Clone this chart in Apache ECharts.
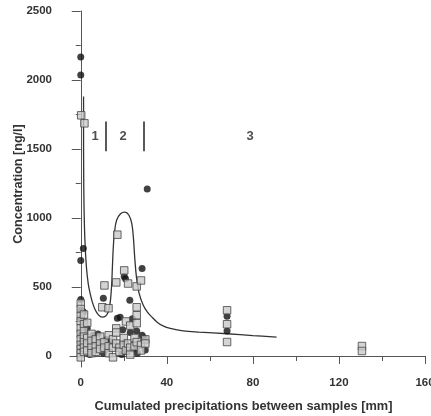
<!DOCTYPE html>
<html>
<head>
<meta charset="utf-8">
<script src="https://cdn.jsdelivr.net/npm/echarts@6/dist/echarts.min.js"></script>
<style>
  html, body { margin: 0; padding: 0; background: #fff; }
  #chart { width: 431px; height: 416px; }
</style>
</head>
<body>
<div id="chart"></div>
<script>
// Concentration vs. cumulated precipitation between samples
const xTicks = [0, 40, 80, 120, 160];
const xMinorTicks = [20, 60, 100, 140];
const yTicks = [0, 500, 1000, 1500, 2000, 2500];
const yMinorTicks = [250, 750, 1250, 1750, 2250];

// black circles [mm, ng/l]
const circles = [
  [0, 2166], [0, 2036], [0, 692], [0, 410], [0, 330], [0, 270], [0, 150], [0, 90], [0, 30],
  [1.2, 778], [1.2, 320], [1.4, 250], [1.2, 180], [1.5, 100],
  [3, 200], [3, 60], [4, 110], [4.2, 10],
  [6, 150], [6.2, 40], [8, 160], [8.2, 90],
  [10.5, 418], [10.5, 20], [12, 120], [12.2, 50], [14, 100],
  [17, 274], [17, 60], [18.3, 281], [19.5, 190], [19, 10],
  [20.2, 576], [20.6, 100], [20.8, 560], [21.5, 30],
  [22.8, 403], [23, 170], [24, 270], [24.2, 50],
  [26, 180], [26.3, 20], [28.5, 634], [28.5, 150], [29.5, 130], [30, 43],
  [30.9, 1210],
  [68, 288], [68, 180]
];

// grey squares [mm, ng/l]
const squares = [
  [0.2, 1744], [1.7, 1686],
  [0, 380], [0, 340], [0, 290], [0, 250], [0, 200], [0, 160], [0, 120], [0, 80], [0, 50], [0, 20], [0, -10],
  [1.5, 300], [1.5, 230], [1.5, 180], [1.5, 140], [1.5, 100], [1.5, 60], [1.5, 30],
  [3, 240], [3, 130], [3, 90], [3, 40],
  [5, 160], [5, 110], [5, 60], [5, 20],
  [7, 120], [7, 70], [7, 30],
  [9, 140], [9, 90], [9, 50],
  [10, 353], [11, 511], [11, 100], [11, 60],
  [12.9, 346], [13, 150], [13, 70], [13, 20],
  [15, 120], [15, 60], [15, -10],
  [16.5, 533], [16.5, 200], [16.5, 170], [16.5, 90],
  [17, 879], [18, 60], [18, 30],
  [20.2, 620], [20, 130], [20, 80], [21, 250], [21, 40],
  [22, 525], [22, 90], [23, 220], [23, 60], [23, 10],
  [25, 130], [25, 70],
  [26, 504], [26, 353], [26, 295], [26, 238], [26, 100],
  [28, 547], [28, 80], [28, 40], [30, 120], [30, 90],
  [68, 331], [68, 230], [68, 101],
  [130.7, 72], [130.7, 36]
];

// fitted curve [mm, ng/l]
const fitCurve = [
  [1.3, 1880], [1.3, 1600], [1.35, 1350], [1.5, 1100], [1.9, 850], [2.6, 650],
  [3.5, 520], [4.4, 450], [5.5, 385], [6.7, 335], [8.2, 298], [10, 281],
  [11.6, 290], [12.8, 320], [13.7, 390], [14.3, 500], [14.7, 640], [15.1, 780],
  [15.7, 900], [16.7, 985], [18.5, 1030], [20.5, 1042], [22.4, 1020], [23.7, 960],
  [24.5, 850], [25.1, 710], [25.9, 570], [27.1, 455], [29, 370], [31, 318],
  [33, 283], [35.5, 245], [38.5, 216], [41.6, 200], [47.6, 182], [55, 173],
  [68, 161], [80, 148], [91, 137]
];

// period separators and period numbers
const separators = [11.4, 29.5];
const separatorRange = [1484, 1700];
const periods = [[6.7, 1592, '1'], [19.7, 1592, '2'], [78.7, 1592, '3']];

const yTitle = 'Concentration [ng/l]';
const font = 'Liberation Sans, Arial, sans-serif';
const ink = '#333';
const plain = v => String(v);

const chart = echarts.init(document.getElementById('chart'), null, { renderer: 'canvas' });

const baseX = {
  type: 'value', min: -5, max: 160, splitLine: { show: false },
  axisLine: { onZero: true, onZeroAxisIndex: 0 }
};
const baseY = {
  type: 'value', min: -80, max: 2500, splitLine: { show: false },
  axisLine: { onZero: true, onZeroAxisIndex: 0 }
};

chart.setOption({
  animation: false,
  backgroundColor: '#fff',
  grid: { left: 70, right: 6, top: 11, bottom: 49, containLabel: false, outerBoundsMode: 'none' },
  // vertical title of the concentration axis
  graphic: [{
    type: 'text', x: 19, y: 184, rotation: Math.PI / 2,
    style: {
      text: yTitle, align: 'center', verticalAlign: 'middle',
      textAlign: 'center', textVerticalAlign: 'middle',
      font: 'bold 12.6px Liberation Sans, Arial, sans-serif', fill: ink
    }
  }],
  xAxis: [
    Object.assign({}, baseX, {
      position: 'bottom',
      name: 'Cumulated precipitations between samples [mm]',
      nameLocation: 'middle', nameGap: 33,
      nameTextStyle: { fontFamily: font, fontWeight: 'bold', fontSize: 12.8, color: ink, padding: [0, 8, 0, 0] },
      axisLine: { onZero: true, onZeroAxisIndex: 0, lineStyle: { color: '#555', width: 1 } },
      axisTick: { customValues: xTicks, length: 8, lineStyle: { color: '#555' } },
      axisLabel: { customValues: xTicks, formatter: plain, margin: 10, fontFamily: font, fontWeight: 'bold', fontSize: 11.5, color: ink }
    }),
    Object.assign({}, baseX, {
      position: 'bottom',
      axisLine: { show: false, onZero: true, onZeroAxisIndex: 0 },
      axisTick: { customValues: xMinorTicks, length: 5, lineStyle: { color: '#555' } },
      axisLabel: { show: false }
    })
  ],
  yAxis: [
    Object.assign({}, baseY, {
      position: 'left',
      axisLine: { onZero: true, onZeroAxisIndex: 0, lineStyle: { color: '#555', width: 1 } },
      axisTick: { customValues: yTicks, length: 9, lineStyle: { color: '#555' } },
      axisLabel: { customValues: yTicks, formatter: plain, margin: 18, fontFamily: font, fontWeight: 'bold', fontSize: 11.5, color: ink }
    }),
    Object.assign({}, baseY, {
      position: 'left',
      axisLine: { show: false, onZero: true, onZeroAxisIndex: 0 },
      axisTick: { customValues: yMinorTicks, length: 5, lineStyle: { color: '#555' } },
      axisLabel: { show: false }
    })
  ],
  series: [
    {
      type: 'line', data: fitCurve, smooth: 0.35, symbol: 'none',
      lineStyle: { color: '#333', width: 1.3 }, z: 2
    },
    {
      type: 'scatter', data: circles, symbol: 'circle', symbolSize: 7,
      itemStyle: { color: '#111' }, z: 3
    },
    {
      type: 'scatter', data: squares, symbol: 'rect', symbolSize: 7.5,
      itemStyle: { color: '#c9c9c9', borderColor: '#444', borderWidth: 1 }, z: 4
    },
    {
      type: 'scatter', symbolSize: 0, z: 5,
      data: periods.map(p => ({ value: [p[0], p[1]], name: p[2] })),
      label: {
        show: true, position: 'inside', formatter: '{b}',
        fontFamily: font, fontWeight: 'bold', fontSize: 13, color: '#222'
      },
      markLine: {
        silent: true, symbol: 'none', label: { show: false },
        lineStyle: { color: '#222', width: 1.5, type: 'solid' },
        data: separators.map(x => [{ coord: [x, separatorRange[0]] }, { coord: [x, separatorRange[1]] }])
      }
    }
  ]
});
</script>
</body>
</html>
